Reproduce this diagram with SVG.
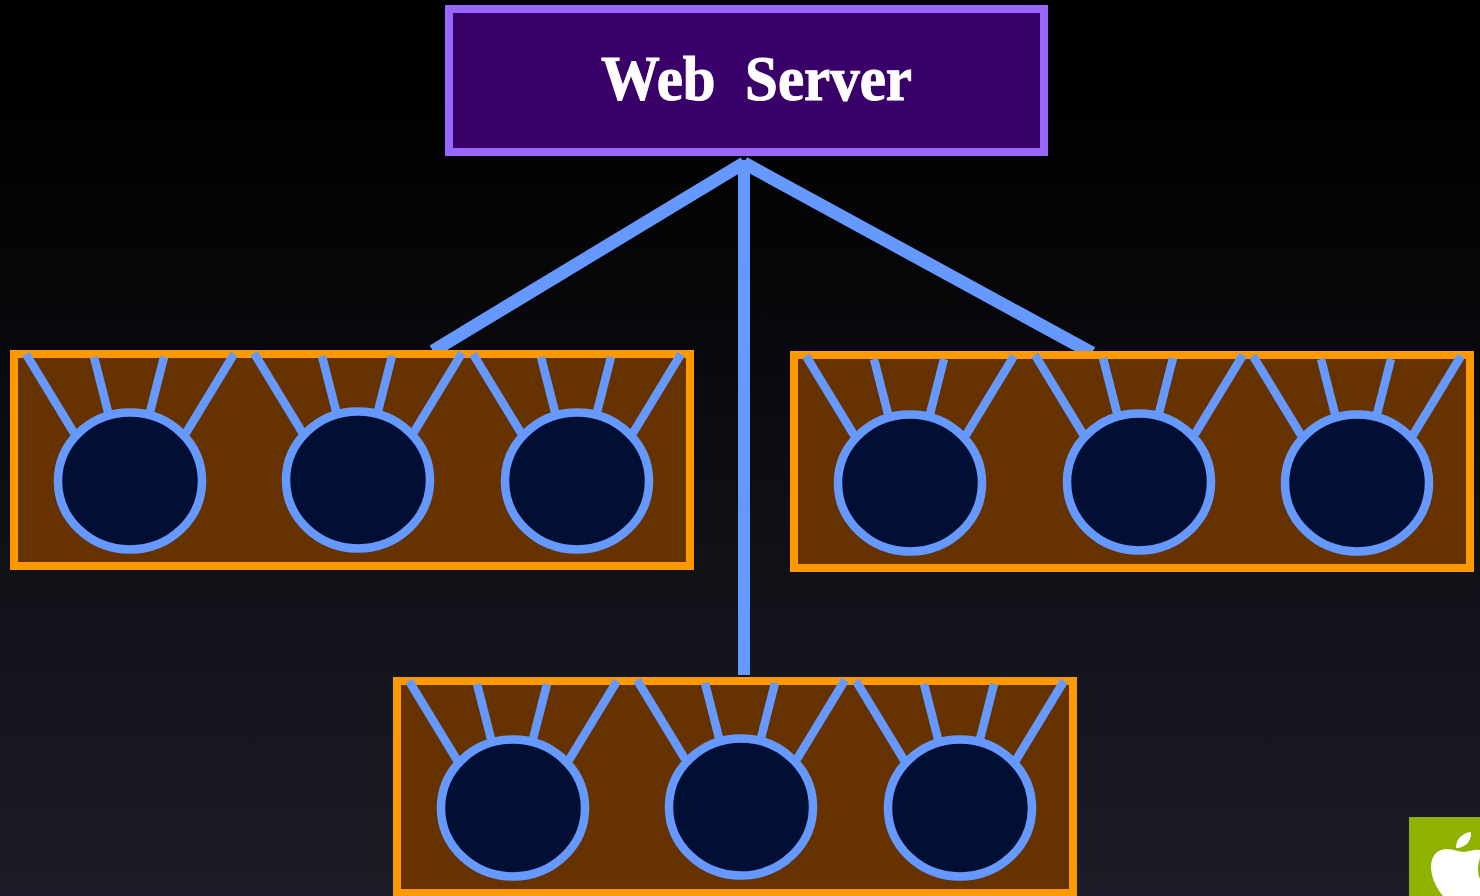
<svg xmlns="http://www.w3.org/2000/svg" width="1480" height="896" viewBox="0 0 1480 896">
<style>
.box{fill:#663300;stroke:#ff9900;stroke-width:8}
.ball{fill:#000f33;stroke:#6699ff;stroke-width:8.5}
.ray{stroke:#6699ff;stroke-width:8.5;fill:none}
.link{stroke:#6699ff;stroke-width:12;fill:none}
.link-d{stroke:#6699ff;stroke-width:13;fill:none}
.title{font-family:"Liberation Serif","Times New Roman",serif;font-weight:bold;font-size:63px;fill:#fff;stroke:#fff;stroke-width:1;white-space:pre}
</style>
<defs>
<linearGradient id="bg" x1="0" y1="0" x2="0" y2="1"><stop offset="0" stop-color="#000"/><stop offset="0.1" stop-color="#000"/><stop offset="1" stop-color="#1c1c28"/></linearGradient>
<g id="unit">
<path class="ray" d="M-104-127L-56-48M-36-124L-22-69M34-124L20-69M104-127L56-48"/>
<ellipse class="ball" rx="72" ry="68.5"/>
</g>
</defs>
<rect width="1480" height="896" fill="url(#bg)"/>
<g id="connectors">
<path class="link" d="M744 160V675"/>
<path class="link-d" d="M744 163L433 351M744 163L1092 353"/>
</g>
<g id="web-server">
<rect x="449" y="9" width="595" height="143" fill="#390069" stroke="#9966ff" stroke-width="8"/>
<text class="title" x="601" y="100" textLength="311" lengthAdjust="spacingAndGlyphs" xml:space="preserve">Web  Server</text>
</g>
<g id="cluster-left">
<rect class="box" x="14" y="354" width="676" height="212"/>
<use id="left-1" href="#unit" x="130" y="481"/>
<use id="left-2" href="#unit" x="358" y="480"/>
<use id="left-3" href="#unit" x="577" y="481"/>
</g>
<g id="cluster-right">
<rect class="box" x="794" y="355" width="676" height="213"/>
<use id="right-1" href="#unit" x="910" y="483"/>
<use id="right-2" href="#unit" x="1139" y="482"/>
<use id="right-3" href="#unit" x="1357" y="483"/>
</g>
<g id="cluster-bottom">
<rect class="box" x="397" y="681" width="676" height="212"/>
<use id="bottom-1" href="#unit" x="513" y="808"/>
<use id="bottom-2" href="#unit" x="741" y="807"/>
<use id="bottom-3" href="#unit" x="960" y="808"/>
</g>
<g id="apple-badge">
<rect x="1409" y="817" width="71" height="79" fill="#8fb300"/>
<path fill="#fff" d="M1447 849C1453 849 1459 852 1464 852C1469 852 1474 849 1480 850V858C1479 861 1478 865 1478 869C1478 874 1479 877 1480 879V896H1443C1436 888 1431 876 1431 867C1431 855 1438 849 1447 849Z"/>
<path fill="#fff" d="M1456 848C1456 839 1462 833 1471 832C1472 841 1465 848 1456 848Z"/>
</g>
</svg>
